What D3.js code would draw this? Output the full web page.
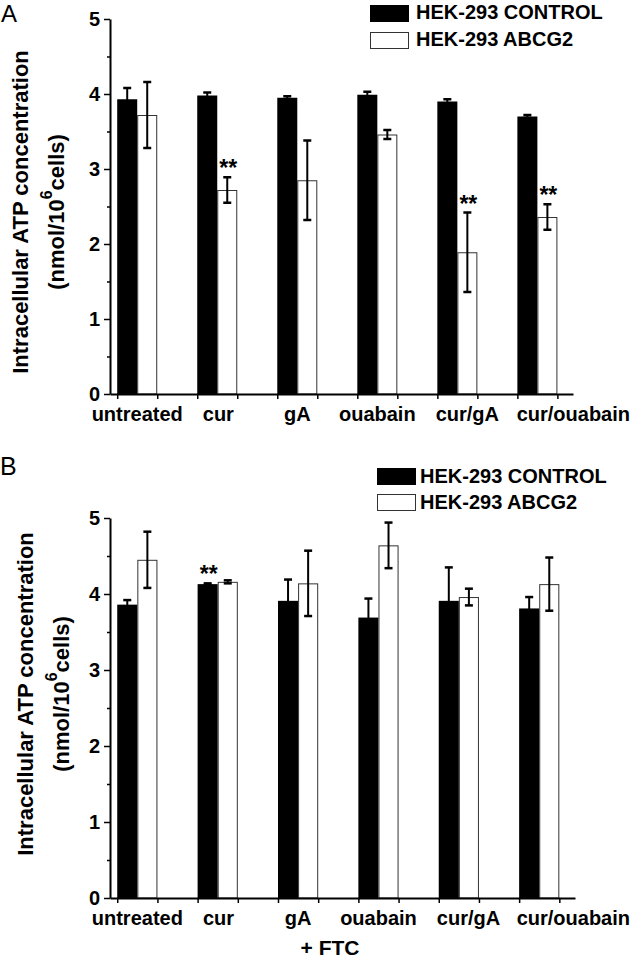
<!DOCTYPE html>
<html>
<head>
<meta charset="utf-8">
<script src="https://cdn.jsdelivr.net/npm/d3@7/dist/d3.min.js"></script>
<style>
  html, body { margin: 0; padding: 0; background: #fff; }
  svg { display: block; }
  text { font-family: "Liberation Sans", Arial, Helvetica, sans-serif; fill: #000; }
</style>
</head>
<body>
<svg id="chart" width="633" height="960"></svg>
<script>
// ---------------- data ----------------
const categories = ["untreated", "cur", "gA", "ouabain", "cur/gA", "cur/ouabain"];
const seriesNames = ["HEK-293 CONTROL", "HEK-293 ABCG2"];
const yTicks = [0, 1, 2, 3, 4, 5];
const yMinorTicks = [0.5, 1.5, 2.5, 3.5, 4.5];

// Panel A
const controlA    = [3.93, 3.98, 3.95, 3.99, 3.90, 3.70];
const controlAErr = [0.15, 0.04, 0.02, 0.04, 0.03, 0.02];
const abcg2A      = [3.72, 2.72, 2.85, 3.46, 1.89, 2.36];
const abcg2AErr   = [0.44, 0.17, 0.53, 0.06, 0.53, 0.17];
const sigControlA = [false, false, false, false, false, false];
const sigAbcg2A   = [false, true, false, false, true, true];

// Panel B (+ FTC)
const controlB    = [3.86, 4.13, 3.91, 3.69, 3.91, 3.81];
const controlBErr = [0.06, 0.01, 0.28, 0.25, 0.44, 0.15];
const abcg2B      = [4.45, 4.16, 4.14, 4.64, 3.96, 4.13];
const abcg2BErr   = [0.37, 0.02, 0.43, 0.30, 0.11, 0.35];
const sigControlB = [false, true, false, false, false, false];
const sigAbcg2B   = [false, false, false, false, false, false];

// ---------------- drawing ----------------
const svg = d3.select("#chart");
const FONT = "\"Liberation Sans\", Arial, Helvetica, sans-serif";
const W = 633;

const panels = [
  {
    letter: "A", letterX: 1, letterY: 22, letterSize: 24,
    xRange: [110, 573], yRange: [394, 19],
    control: controlA, controlErr: controlAErr, abcg2: abcg2A, abcg2Err: abcg2AErr,
    sigC: sigControlA, sigW: sigAbcg2A,
    legendX: 370, legendY: [5, 32], legendTextX: 416, legendBase: [19, 46],
    title1X: 28, title2X: 64, titleY: 212,
    labelDy: 27, footer: null
  },
  {
    letter: "B", letterX: 0, letterY: 475, letterSize: 25,
    xRange: [110, 575], yRange: [898, 518],
    control: controlB, controlErr: controlBErr, abcg2: abcg2B, abcg2Err: abcg2BErr,
    sigC: sigControlB, sigW: sigAbcg2B,
    legendX: 377, legendY: [468, 494], legendTextX: 420, legendBase: [483, 509],
    title1X: 33, title2X: 69, titleY: 694,
    labelDy: 27, footer: { text: "+ FTC", x: 330, y: 955 }
  }
];

panels.forEach(p => {
  const g = svg.append("g");
  const x = d3.scaleLinear().domain([-0.34, 5.445]).range(p.xRange);
  const y = d3.scaleLinear().domain([0, 5]).range(p.yRange);
  const bw = 0.25; // bar width in category units

  // panel letter
  g.append("text").attr("x", p.letterX).attr("y", p.letterY)
    .attr("font-size", p.letterSize).attr("font-weight", "normal").text(p.letter);

  // bars: control (black) left of center, ABCG2 (white) right of center
  const rows = categories.map((c, i) => ({
    i, c,
    cv: p.control[i], ce: p.controlErr[i],
    wv: p.abcg2[i], we: p.abcg2Err[i],
    sc: p.sigC[i], sw: p.sigW[i]
  }));

  g.selectAll("rect.ctrl").data(rows).enter().append("rect")
    .attr("class", "ctrl")
    .attr("x", d => x(d.i - bw))
    .attr("width", d => x(d.i) - x(d.i - bw))
    .attr("y", d => y(d.cv))
    .attr("height", d => y(0) - y(d.cv))
    .attr("fill", "#000");

  g.selectAll("rect.abcg").data(rows).enter().append("rect")
    .attr("class", "abcg")
    .attr("x", d => x(d.i) + 0.5)
    .attr("width", d => x(d.i + bw) - x(d.i) - 1)
    .attr("y", d => y(d.wv) + 0.5)
    .attr("height", d => y(0) - y(d.wv) - 0.5)
    .attr("fill", "#fff").attr("stroke", "#333").attr("stroke-width", 1);

  // error bars
  const errs = [];
  rows.forEach(d => {
    errs.push({ cx: x(d.i - bw / 2), v: d.cv, e: d.ce, sig: d.sc });
    errs.push({ cx: x(d.i + bw / 2), v: d.wv, e: d.we, sig: d.sw });
  });
  const eg = g.append("g").attr("stroke", "#000");
  errs.forEach(d => {
    eg.append("line").attr("x1", d.cx).attr("x2", d.cx)
      .attr("y1", y(d.v + d.e)).attr("y2", y(d.v - d.e)).attr("stroke-width", 2);
    eg.append("line").attr("x1", d.cx - 4).attr("x2", d.cx + 4)
      .attr("y1", y(d.v + d.e)).attr("y2", y(d.v + d.e)).attr("stroke-width", 2.5);
    eg.append("line").attr("x1", d.cx - 4).attr("x2", d.cx + 4)
      .attr("y1", y(d.v - d.e)).attr("y2", y(d.v - d.e)).attr("stroke-width", 2.5);
  });

  // significance stars
  errs.filter(d => d.sig).forEach(d => {
    g.append("text").attr("x", d.cx + 1).attr("y", y(d.v + d.e) - 1)
      .attr("text-anchor", "middle").attr("font-size", 23).attr("font-weight", "bold")
      .text("**");
  });

  // y axis
  const yAxis = d3.axisLeft(y).tickValues(yTicks).tickSize(6).tickSizeOuter(0).tickPadding(4)
    .tickFormat(d3.format("d"));
  const ya = g.append("g").attr("transform", `translate(${p.xRange[0]},0)`).call(yAxis);
  ya.select(".domain").attr("stroke", "#000").attr("stroke-width", 2);
  ya.selectAll(".tick line").attr("stroke", "#000").attr("stroke-width", 1.5);
  ya.selectAll(".tick text").attr("font-family", FONT).attr("font-size", 20)
    .attr("font-weight", "bold").attr("fill", "#000");
  const yMinor = d3.axisLeft(y).tickValues(yMinorTicks).tickSize(3).tickFormat("");
  const ym = g.append("g").attr("transform", `translate(${p.xRange[0]},0)`).call(yMinor);
  ym.select(".domain").remove();
  ym.selectAll(".tick line").attr("stroke", "#000").attr("stroke-width", 1.5);

  // x axis
  const xTicks = [];
  categories.forEach((c, i) => { xTicks.push(i - bw); xTicks.push(i + bw); });
  const xAxis = d3.axisBottom(x).tickValues(xTicks).tickSize(5).tickSizeOuter(0).tickFormat("");
  const xa = g.append("g").attr("transform", `translate(0,${y(0)})`).call(xAxis);
  xa.select(".domain").attr("stroke", "#000").attr("stroke-width", 2);
  xa.selectAll(".tick line").attr("stroke", "#000").attr("stroke-width", 1.5);

  // category labels (centered; shifted right on collision, kept inside the page)
  const labels = g.selectAll("text.cat").data(categories).enter().append("text")
    .attr("class", "cat")
    .attr("x", (d, i) => x(i))
    .attr("y", y(0) + p.labelDy)
    .attr("text-anchor", "middle")
    .attr("font-size", 20).attr("font-weight", "bold")
    .text(d => d);
  let prevRight = -Infinity;
  labels.each(function () {
    const bb = this.getBBox();
    let shift = 0;
    if (bb.x < prevRight + 20) shift = prevRight + 20 - bb.x;
    if (bb.x + bb.width + shift > W - 3) shift = W - 3 - (bb.x + bb.width);
    d3.select(this).attr("x", +d3.select(this).attr("x") + shift);
    prevRight = bb.x + shift + bb.width;
  });

  // y axis title
  g.append("text")
    .attr("transform", `translate(${p.title1X},${p.titleY}) rotate(-90)`)
    .attr("text-anchor", "middle").attr("font-size", 22).attr("font-weight", "bold")
    .text("Intracellular ATP concentration");
  const t2 = g.append("text")
    .attr("transform", `translate(${p.title2X},${p.titleY}) rotate(-90)`)
    .attr("text-anchor", "middle").attr("font-size", 22).attr("font-weight", "bold");
  t2.append("tspan").text("(nmol/10");
  t2.append("tspan").attr("dy", -12).attr("font-size", 16).text("6");
  t2.append("tspan").attr("dy", 12).text("cells)");

  // legend
  const swatchW = 39, swatchH = 17;
  g.append("rect").attr("x", p.legendX).attr("y", p.legendY[0])
    .attr("width", swatchW).attr("height", swatchH).attr("fill", "#000");
  g.append("rect").attr("x", p.legendX + 0.5).attr("y", p.legendY[1] + 0.5)
    .attr("width", swatchW - 1).attr("height", swatchH - 1)
    .attr("fill", "#fff").attr("stroke", "#333").attr("stroke-width", 1);
  seriesNames.forEach((s, k) => {
    g.append("text").attr("x", p.legendTextX).attr("y", p.legendBase[k])
      .attr("font-size", 20).attr("font-weight", "bold").text(s);
  });

  if (p.footer) {
    g.append("text").attr("x", p.footer.x).attr("y", p.footer.y)
      .attr("text-anchor", "middle").attr("font-size", 21).attr("font-weight", "bold")
      .text(p.footer.text);
  }
});
</script>
</body>
</html>
